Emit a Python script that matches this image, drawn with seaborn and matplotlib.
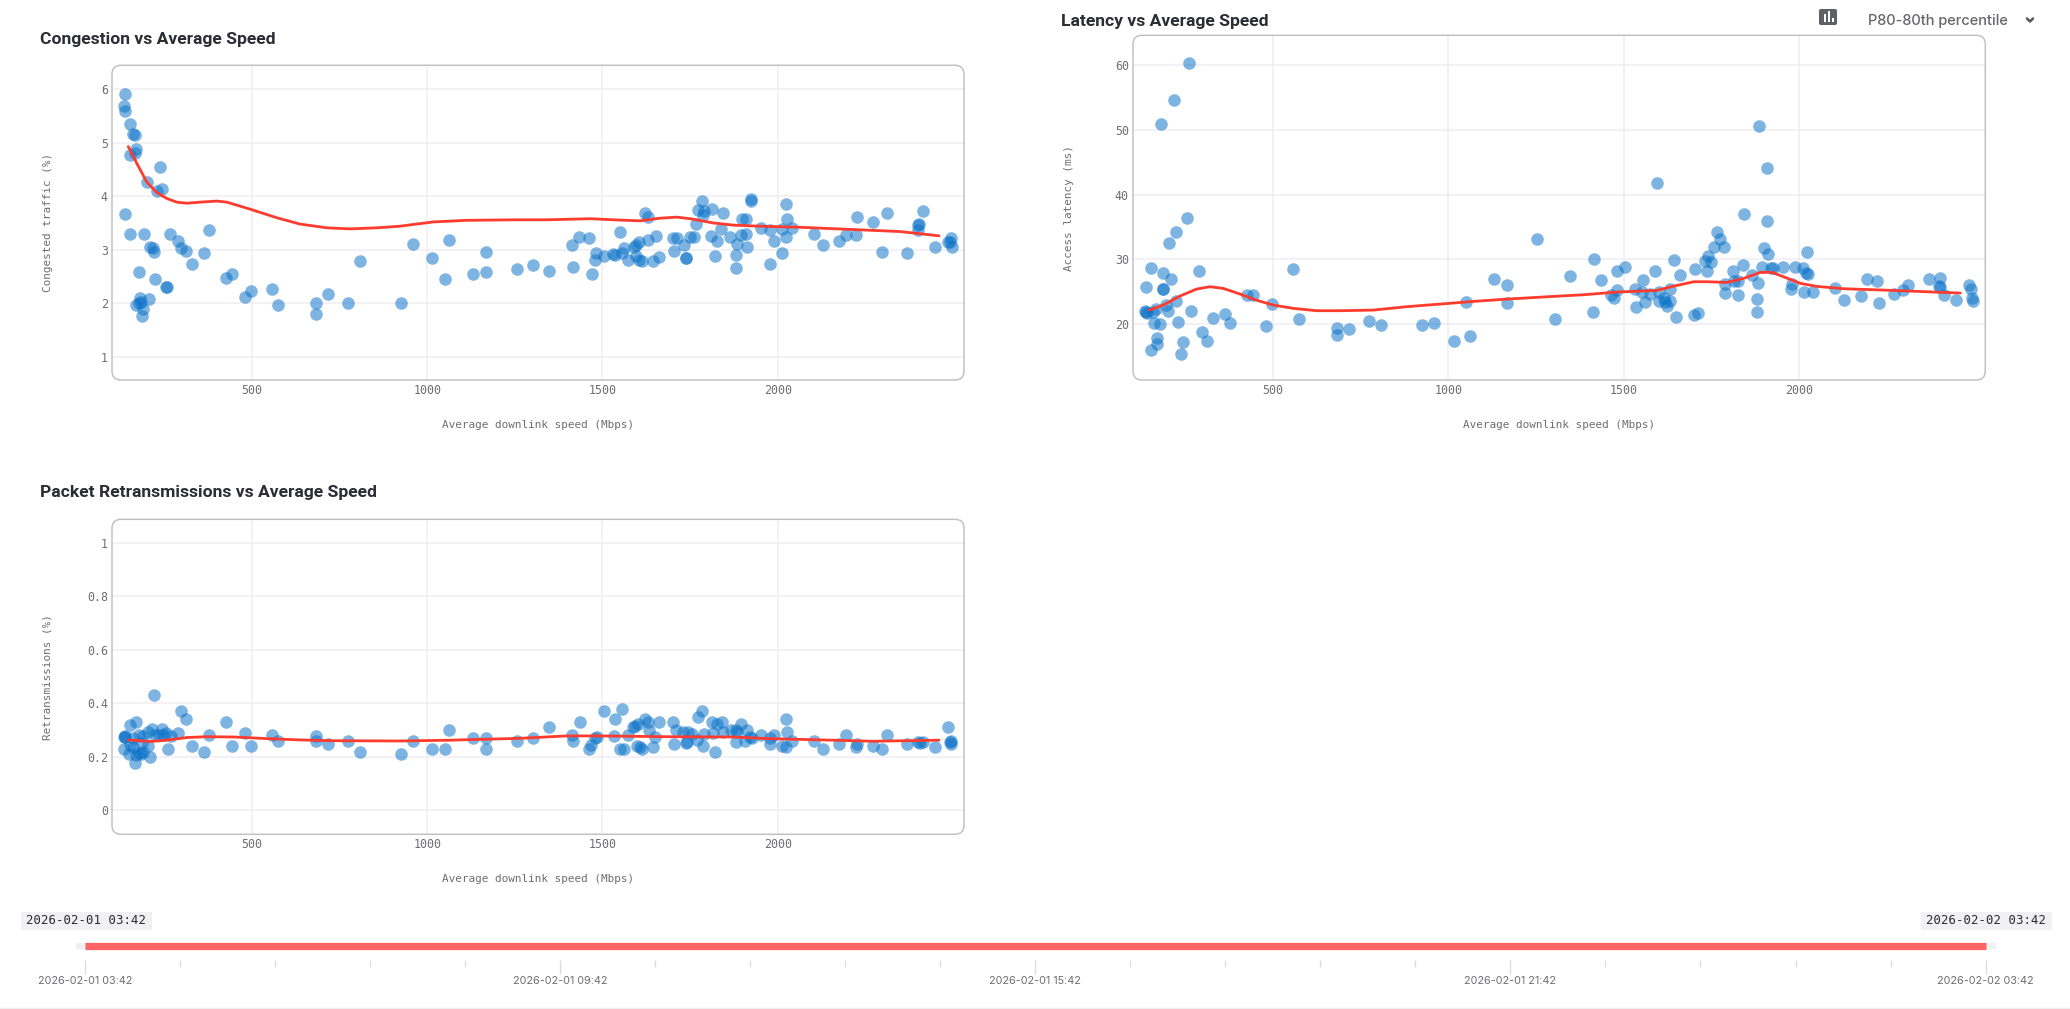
import matplotlib
matplotlib.use('Agg')
import matplotlib.pyplot as plt
import matplotlib.transforms as mtransforms
from matplotlib.patches import FancyBboxPatch
import seaborn as sns

W, H = 2070, 1009

# Congestion panel
congestion_speed = [137.7, 134.8, 138.6, 153, 161.4, 167.2, 169, 165, 153, 238.5, 199.5, 244, 228, 136.7, 153, 193, 266, 378, 289, 210, 216.6, 221, 297, 311, 364, 329, 177, 224, 444, 425, 254.6, 258, 498, 480, 558, 574, 181, 206, 184, 178.5, 169, 188, 185, 683.5, 683.5, 717, 773, 809, 926, 959, 1014.5, 1062, 1051.6, 1130.5, 1167.6, 1166.7, 1255,
                    1302, 1348, 1416, 1412.5, 1434, 1462, 1469.6, 1479, 1482, 1505, 1531, 1536, 1550, 1555, 1560, 1572, 1591, 1595, 1605.6, 1596, 1604, 1612, 1622.7, 1631, 1629, 1652, 1644.6, 1661.7, 1700.6, 1712, 1705, 1734, 1738, 1738.7, 1750, 1761.5, 1767, 1773, 1784, 1790, 1788, 1812, 1843, 1839.5, 1811, 1826, 1821, 1865, 1881, 1881, 1885, 1896.6, 1910, 1911, 1899, 1910, 1923, 1925, 1953, 1978, 1979, 1988, 2011.6, 2013.5, 2023, 2026, 2024, 2041, 2103, 2128.6, 2176, 2195, 2223, 2227.5, 2272, 2298, 2311, 2370, 2399, 2401.5, 2403.4, 2414, 2449, 2493, 2487, 2492, 2497.6]
congestion_pct = [5.92, 5.68, 5.60, 5.35, 5.16, 5.15, 4.88, 4.80, 4.78, 4.55, 4.27, 4.14, 4.10, 3.66, 3.29, 3.29, 3.29, 3.37, 3.17, 3.05, 3.04, 2.96, 3.03, 2.98, 2.93, 2.73, 2.58, 2.45, 2.54, 2.48, 2.30, 2.30, 2.23, 2.12, 2.26, 1.97, 2.09, 2.07, 2.03, 2.01, 1.97, 1.89, 1.77, 2.00, 1.80, 2.18, 2.01, 2.79, 2.00, 3.11, 2.84, 3.19, 2.45, 2.55, 2.96, 2.58, 2.64,
                  2.71, 2.60, 2.68, 3.08, 3.23, 3.22, 2.55, 2.80, 2.94, 2.89, 2.92, 2.91, 3.34, 2.93, 3.04, 2.80, 3.06, 3.08, 3.14, 2.88, 2.81, 2.79, 3.69, 3.62, 3.19, 3.26, 2.78, 2.86, 3.22, 3.22, 2.98, 3.09, 2.85, 2.84, 3.23, 3.24, 3.48, 3.74, 3.92, 3.72, 3.65, 3.76, 3.69, 3.39, 3.26, 3.16, 2.89, 3.24, 2.91, 2.66, 3.11, 3.27, 3.29, 3.06, 3.58, 3.58, 3.95, 3.91, 3.41, 3.36, 2.73, 3.17, 3.39, 2.94, 3.86, 3.57, 3.23, 3.41, 3.30, 3.09, 3.17, 3.27, 3.28, 3.61, 3.52, 2.96, 3.69, 2.93, 3.37, 3.46, 3.49, 3.72, 3.05, 3.22, 3.15, 3.14, 3.06]
congestion_trend_x = [147, 171, 199.5, 228, 256.5, 285, 314, 352, 399, 428, 494, 570, 637, 713, 780, 856, 922, 1017, 1112, 1255, 1341, 1465, 1531, 1607, 1664.5, 1712, 1750, 1817, 1874, 1950, 2064, 2207, 2349, 2460]
congestion_trend_y = [4.93, 4.62, 4.27, 4.07, 3.96, 3.89, 3.87, 3.89, 3.91, 3.89, 3.76, 3.60, 3.48, 3.41, 3.39, 3.41, 3.44, 3.52, 3.55, 3.56, 3.56, 3.58, 3.56, 3.54, 3.59, 3.61, 3.58, 3.5, 3.46, 3.44, 3.42, 3.38, 3.34, 3.26]

# Latency panel
latency_speed = [259, 217, 181.4, 254.6, 224, 203, 153, 185, 209, 289, 137, 185, 187, 222, 194, 200.4, 165, 136, 138, 141.5, 158.6, 266, 229, 161.4, 177.6, 329, 364, 378, 297, 311, 243, 168, 170, 153, 238.5, 425, 442, 497, 480, 558, 574, 683.5, 683.5, 717, 773, 809, 926, 959, 1015.4, 1062, 1051.6, 1130.5, 1167, 1167.6, 1254, 1303,
                 1347, 1412.5, 1415, 1435, 1480, 1505, 1482, 1465, 1471.5, 1532, 1535, 1554, 1551, 1562, 1576, 1590, 1595, 1602, 1602, 1614, 1619, 1625, 1631, 1631, 1644.6, 1660.7, 1650, 1700, 1711, 1704.5, 1738, 1733, 1740, 1750, 1758.7, 1767, 1774, 1785, 1788, 1790, 1812, 1814, 1825, 1826, 1839.5, 1842, 1866, 1882, 1881, 1880, 1887, 1908, 1908, 1900, 1911, 1895.6, 1921, 1927, 1953.6, 1976.5, 1979, 1990, 2010.7, 2013, 2023, 2020, 2026, 2041, 2103, 2128.6, 2176, 2195, 2222, 2227.5, 2271, 2298, 2312, 2370, 2398.7, 2402.5, 2403.4, 2414, 2449, 2486, 2491, 2493, 2496.6]
latency_ms = [60.39, 54.57, 50.96, 36.43, 34.27, 32.57, 28.71, 27.88, 26.96, 28.14, 25.72, 25.46, 25.46, 23.5, 22.94, 21.96, 22.27, 22.0, 21.9, 21.65, 21.8, 22.0, 20.36, 20.2, 20.0, 20.98, 21.6, 20.1, 18.76, 17.42, 17.27, 17.84, 16.9, 15.93, 15.36, 24.53, 24.48, 23.09, 19.69, 28.55, 20.72, 19.38, 18.3, 19.28, 20.46, 19.85, 19.8, 20.2, 17.37, 18.1, 23.45, 27.0, 26.08, 23.3, 33.09, 20.77,
              27.47, 21.85, 30.1, 26.85, 28.24, 28.8, 25.3, 24.43, 24.07, 25.41, 22.68, 26.85, 24.9, 23.45, 24.6, 28.14, 41.79, 25.0, 23.5, 23.97, 23.45, 22.73, 23.5, 25.36, 29.9, 27.57, 21.03, 21.34, 21.75, 28.55, 28.24, 29.79, 30.5, 29.53, 31.9, 34.27, 33.14, 31.95, 26.23, 24.8, 28.2, 26.7, 24.53, 26.7, 29.12, 37.05, 27.52, 26.39, 23.81, 21.9, 50.55, 44.16, 35.92, 31.7, 30.82, 28.8, 28.6, 28.6, 28.76, 25.46, 26.23, 28.86, 28.66, 24.95, 31.08, 27.88, 27.78, 24.95, 25.6, 23.7, 24.38, 27.0, 26.65, 23.2, 24.6, 25.25, 25.98, 26.96, 25.87, 27.16, 25.77, 24.43, 23.7, 25.98, 25.46, 23.97, 23.5]
latency_trend_x = [147, 187, 234.7, 282, 320, 358, 405.9, 452, 500, 558, 625, 691, 786, 881, 1000, 1071.5, 1167, 1319, 1386, 1481, 1595, 1643, 1700, 1738, 1795, 1842, 1890, 1923, 1956.5, 2004, 2051.6, 2128, 2242, 2337, 2460]
latency_trend_y = [22.16, 22.94, 24.33, 25.41, 25.77, 25.51, 24.64, 23.7, 22.94, 22.42, 22.06, 22.06, 22.16, 22.68, 23.19, 23.5, 23.86, 24.33, 24.53, 24.95, 25.2, 25.87, 26.54, 26.54, 26.44, 27.06, 27.99, 27.99, 27.3, 26.29, 25.82, 25.46, 25.25, 25.05, 24.79]

# Retransmissions panel
retrans_speed = [221, 297, 311, 425, 169, 153, 290, 137, 135, 139, 216, 244, 256, 204, 190, 177, 161, 224, 236, 247, 268, 378, 480, 558, 574, 683, 683, 717, 773, 809, 926, 959, 1014.5, 1052, 1062, 1130.5, 1167.6, 1167, 1255, 259, 329, 364, 444, 498, 135, 150, 165, 210, 204, 190, 177, 169, 182, 161, 152, 185,
                 1302, 1348, 1412.5, 1416, 1436, 1462, 1467, 1479, 1484, 1505, 1532, 1535, 1555, 1550, 1560, 1572, 1586, 1593, 1602, 1598, 1607, 1612, 1622, 1629, 1633, 1651, 1645, 1662, 1700, 1709, 1704.6, 1731, 1743, 1755, 1738, 1740, 1769, 1773, 1784, 1790, 1788, 1812, 1826, 1840, 1821, 1816, 1843, 1866, 1881, 1881, 1885, 1896, 1907, 1912, 1920, 1926, 1953, 1978, 1979, 1990, 2012, 2023, 2026, 2024, 2042, 2103, 2128.6, 2176, 2195, 2223, 2227.5, 2271, 2298, 2311, 2370, 2399, 2405, 2414, 2449, 2487, 2492, 2495, 2494]
retrans_pct = [0.43, 0.371, 0.34, 0.33, 0.329, 0.319, 0.29, 0.279, 0.273, 0.275, 0.303, 0.303, 0.288, 0.291, 0.278, 0.281, 0.272, 0.281, 0.281, 0.281, 0.279, 0.281, 0.29, 0.28, 0.258, 0.279, 0.26, 0.249, 0.26, 0.219, 0.209, 0.26, 0.23, 0.23, 0.30, 0.27, 0.269, 0.23, 0.259, 0.23, 0.239, 0.219, 0.239, 0.239, 0.229, 0.21, 0.178, 0.20, 0.24, 0.219, 0.213, 0.207, 0.21, 0.238, 0.244, 0.25,
               0.272, 0.31, 0.28, 0.259, 0.33, 0.229, 0.243, 0.269, 0.273, 0.37, 0.279, 0.341, 0.38, 0.229, 0.229, 0.28, 0.31, 0.315, 0.323, 0.242, 0.237, 0.229, 0.34, 0.331, 0.30, 0.273, 0.238, 0.33, 0.331, 0.30, 0.249, 0.291, 0.291, 0.285, 0.25, 0.254, 0.263, 0.35, 0.371, 0.285, 0.242, 0.329, 0.321, 0.33, 0.219, 0.288, 0.294, 0.30, 0.257, 0.30, 0.294, 0.321, 0.26, 0.30, 0.273, 0.269, 0.282, 0.269, 0.248, 0.28, 0.24, 0.341, 0.291, 0.238, 0.259, 0.26, 0.229, 0.249, 0.282, 0.238, 0.248, 0.24, 0.229, 0.28, 0.249, 0.257, 0.253, 0.257, 0.238, 0.31, 0.257, 0.26, 0.249]
retrans_trend_x = [147, 209, 256, 314, 371, 447, 542, 637, 732, 922, 1065, 1265, 1398, 1493, 1683.5, 1874, 1969, 2159, 2273, 2460]
retrans_trend_y = [0.263, 0.257, 0.262, 0.272, 0.275, 0.274, 0.268, 0.263, 0.26, 0.259, 0.262, 0.269, 0.278, 0.278, 0.275, 0.274, 0.268, 0.262, 0.258, 0.262]

speed_ticks = [500, 1000, 1500, 2000]
congestion_ticks = [1, 2, 3, 4, 5, 6]
latency_ticks = [20, 30, 40, 50, 60]
retrans_ticks = [0, 0.2, 0.4, 0.6, 0.8, 1]
retrans_labels = ['0', '0.2', '0.4', '0.6', '0.8', '1']

slider_hours = [0, 24]
slider_major = [0, 6, 12, 18, 24]
slider_minor = [1.2, 2.4, 3.6, 4.8, 7.2, 8.4, 9.6, 10.8, 13.2, 14.4, 15.6, 16.8, 19.2, 20.4, 21.6, 22.8]
slider_labels = ['2026-02-01 03:42', '2026-02-01 09:42', '2026-02-01 15:42', '2026-02-01 21:42', '2026-02-02 03:42']

MONO = 'DejaVu Sans Mono'
SANS = 'Inter'
TITLE_FONT = 'Roboto'
TITLE_COL = '#2c2c35'
MUTED = '#6e6e72'
GRID = '#f0eef3'

sns.set_theme(style='white')
plt.rcParams['font.family'] = [SANS, 'DejaVu Sans']

fig = plt.figure(figsize=(W / 100, H / 100), dpi=100)


def fx(x):
    return x / W


def fy(y):
    return 1 - y / H


def panel(box, xs, ys, tx, ty, ylim, yticks, ylabels, title, title_pos, ylabel, ylabel_x, xlabel_y, tick_y):
    left, top, right, bottom = box
    ax = fig.add_axes([fx(left), fy(bottom), (right - left) / W, (bottom - top) / H])
    sns.scatterplot(x=xs, y=ys, ax=ax, s=82, color='#0a72c8', alpha=0.53, linewidth=0, zorder=3)
    sns.lineplot(x=tx, y=ty, ax=ax, color='#ff3b2e', linewidth=2.0, sort=False, errorbar=None, zorder=4)
    ax.set_xlim(100.6, 2531.5)
    ax.set_ylim(*ylim)
    ax.set_xticks(speed_ticks)
    ax.set_xticklabels([str(t) for t in speed_ticks], fontfamily=MONO)
    ax.set_yticks(yticks)
    ax.set_yticklabels(ylabels, fontfamily=MONO)
    ax.tick_params(axis='both', length=0, labelsize=8.4, labelcolor=MUTED)
    ax.tick_params(axis='y', pad=3)
    ax.tick_params(axis='x', pad=tick_y - bottom - 6)
    ax.grid(True, color=GRID, linewidth=1.1, zorder=0)
    ax.set_axisbelow(True)
    for s in ax.spines.values():
        s.set_visible(False)
    ax.patch.set_visible(False)
    ax.set_xlabel('Average downlink speed (Mbps)', fontfamily=MONO, fontsize=7.95, color=MUTED, va='center')
    ax.xaxis.set_label_coords(fx((left + right) / 2), fy(xlabel_y), transform=fig.transFigure)
    ax.set_ylabel(ylabel, fontfamily=MONO, fontsize=7.95, color=MUTED, va='center')
    ax.yaxis.set_label_coords(fx(ylabel_x), fy((top + bottom) / 2), transform=fig.transFigure)
    # rounded frame in display pixels
    frame = FancyBboxPatch((left + 8, H - bottom + 8), right - left - 16, bottom - top - 16,
                           boxstyle='round,pad=8,rounding_size=9', fill=False,
                           edgecolor='#c2c2c6', linewidth=1.1,
                           transform=mtransforms.IdentityTransform())
    fig.add_artist(frame)
    fig.text(fx(title_pos[0]), fy(title_pos[1]), title, fontsize=12.6, fontweight='bold', fontfamily=TITLE_FONT,
             color=TITLE_COL, va='center', ha='left')
    return ax


panel((112, 65.3, 964, 380), congestion_speed, congestion_pct, congestion_trend_x, congestion_trend_y,
      (0.564, 6.449), congestion_ticks, [str(t) for t in congestion_ticks],
      'Congestion vs Average Speed', (40, 39.5), 'Congested traffic (%)', 47.7, 425, 389)
panel((1133, 35.3, 1985.3, 380), latency_speed, latency_ms, latency_trend_x, latency_trend_y,
      (11.35, 64.64), latency_ticks, [str(t) for t in latency_ticks],
      'Latency vs Average Speed', (1061, 21.5), 'Access latency (ms)', 1069, 425, 389)
panel((112, 519.3, 964, 834.3), retrans_speed, retrans_pct, retrans_trend_x, retrans_trend_y,
      (-0.0897, 1.0875), retrans_ticks, retrans_labels,
      'Packet Retransmissions vs Average Speed', (40, 493), 'Retransmissions (%)', 47.7, 879, 843)

# percentile selector, top right
icon = FancyBboxPatch((1821, H - 23), 14, 12, boxstyle='round,pad=2,rounding_size=2', facecolor='#5f5f66',
                      edgecolor='none', transform=mtransforms.IdentityTransform())
fig.add_artist(icon)
for bx, bh in zip((1824, 1828, 1832), (8, 11, 4)):
    bar = plt.Rectangle((bx, H - 22), 2, bh, facecolor='white', edgecolor='none',
                        transform=mtransforms.IdentityTransform())
    fig.add_artist(bar)
fig.text(fx(1867.5), fy(21), 'P80-80th percentile', fontsize=10.5, fontweight='medium', color='#66666c', va='center', ha='left')
chevron = plt.Line2D([fx(2027), fx(2030), fx(2033)], [fy(18.5), fy(21.5), fy(18.5)], color='#55555c', linewidth=1.8,
                     transform=fig.transFigure)
fig.add_artist(chevron)

# time range slider
slider = fig.add_axes([fx(84.8), fy(948.5), (1985.6 - 84.8) / W, 6 / H])
slider.axhspan(0, 1, xmin=-0.0045, xmax=1.0055, color='#f0eff1', clip_on=False, linewidth=0, zorder=1)
sns.lineplot(x=slider_hours, y=[0.5, 0.5], ax=slider, color='#ff6565', linewidth=5.2, solid_capstyle='butt',
             errorbar=None, zorder=2, clip_on=False)
slider.set_xlim(0, 24)
slider.set_ylim(0, 1)
slider.set_yticks([])
slider.set_xticks(slider_major)
slider.set_xticklabels(slider_labels, fontfamily='Roboto')
slider.set_xticks(slider_minor, minor=True)
slider.tick_params(axis='x', which='major', bottom=True, length=10, width=1, color='#dcdcde', pad=1.5,
                   direction='out', labelsize=7.8, labelcolor=MUTED)
slider.tick_params(axis='x', which='minor', bottom=True, length=5, width=1, color='#dcdcde', direction='out')
for s in slider.spines.values():
    s.set_visible(False)
slider.patch.set_visible(False)
# ticks start a little below the bar
slider.spines['bottom'].set_position(('outward', 8.3))
slider.set_xlabel('')

for x0, x1, label in ((21, 152, slider_labels[0]), (1921, 2052, slider_labels[-1])):
    tag = plt.Rectangle((x0, H - 930), x1 - x0, 18, facecolor='#f1f0f3', edgecolor='none',
                        transform=mtransforms.IdentityTransform())
    fig.add_artist(tag)
    fig.text(fx((x0 + x1) / 2), fy(921), label, fontfamily=MONO, fontsize=8.9, color='#2a2a30', ha='center', va='center')

fig.add_artist(plt.Line2D([0, 1], [fy(1008), fy(1008)], color='#efefef', linewidth=1, transform=fig.transFigure))

fig.savefig('out.png', dpi=100, facecolor='white')
